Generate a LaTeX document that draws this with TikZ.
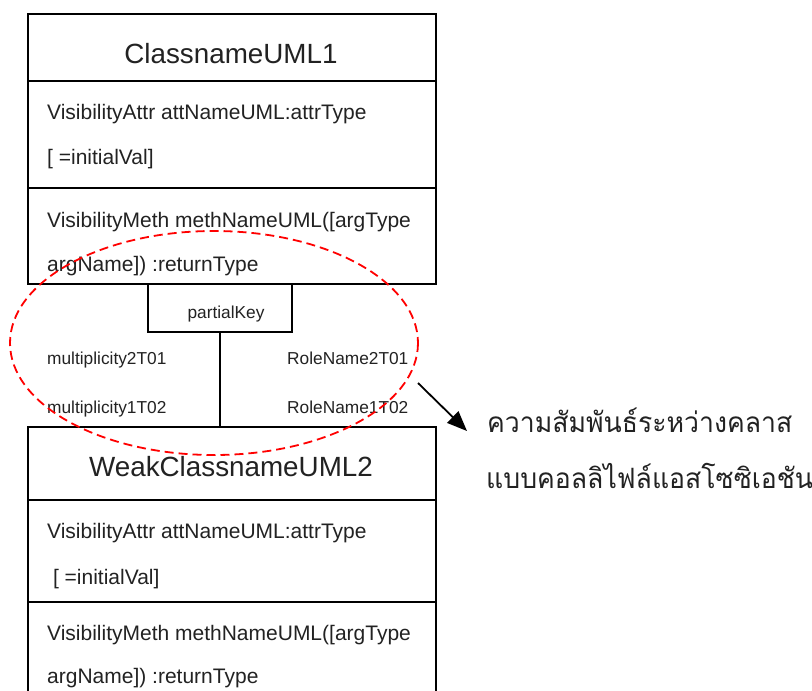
\documentclass[tikz,border=0pt]{standalone}
\usepackage{fontspec}
\setmainfont{Liberation Sans}
\newfontfamily\thaifont[Script=Thai, FakeStretch=0.95]{Loma}
\usetikzlibrary{arrows.meta}
\definecolor{ink}{HTML}{222222}
\tikzset{
  part/.style={draw=black, line width=1.8pt, rectangle, inner sep=0pt, anchor=north west},
  cname/.style={anchor=base, font=\fontsize{27.8}{27.8}\selectfont, text=ink, inner sep=0pt},
  member/.style={anchor=base west, font=\fontsize{21}{21}\selectfont, text=ink, inner sep=0pt},
  small/.style={anchor=base west, font=\fontsize{17.3}{17.3}\selectfont, text=ink, inner sep=0pt},
  note/.style={anchor=base west, font=\thaifont\fontsize{28}{28}\selectfont, text=ink, inner sep=0pt},
  link/.style={draw=black, line width=1.8pt},
  group/.style={draw=red, line width=1.8pt, dash pattern=on 9pt off 5pt},
  pointer/.style={draw=black, line width=1.8pt, -{Triangle[length=20pt,width=16pt]}}
}
\begin{document}
\begin{tikzpicture}[x=1pt,y=-1pt]
\useasboundingbox (0,0) rectangle (812,691);
\clip (0,0) rectangle (812,691);

% first class: name, attributes, methods
\node[part, minimum width=408pt, minimum height=67pt]  (c1name) at (27,13) {};
\node[part, minimum width=408pt, minimum height=107pt] (c1attr) at (27,80) {};
\node[part, minimum width=408pt, minimum height=96pt]  (c1meth) at (27,187) {};
\node[cname] (c1title) at (231,63) {ClassnameUML1};
\node[member] (c1a1) at (47,119) {VisibilityAttr attNameUML:attrType};
\node[member] (c1a2) at (47,164) {[ =initialVal]};
\node[member] (c1m1) at (47,227) {VisibilityMeth methNameUML([argType};
\node[member] (c1m2) at (47,271) {argName]) :returnType};

% qualifier box
\node[part, minimum width=144pt, minimum height=48pt] (pk) at (147,283) {};
\node[small, anchor=base] (pktext) at (226,318) {partialKey};

% weak class: name, attributes, methods
\node[part, minimum width=408pt, minimum height=73pt]  (c2name) at (27,426) {};
\node[part, minimum width=408pt, minimum height=102pt] (c2attr) at (27,499) {};
\node[part, minimum width=408pt, minimum height=110pt] (c2meth) at (27,601) {};
\node[cname] (c2title) at (231,476) {WeakClassnameUML2};
\node[member] (c2a1) at (47,538) {VisibilityAttr attNameUML:attrType};
\node[member] (c2a2) at (47,584) {\ [ =initialVal]};
\node[member] (c2m1) at (47,640) {VisibilityMeth methNameUML([argType};
\node[member] (c2m2) at (47,683) {argName]) :returnType};

% association between the classes
\draw[link] (pk.south) -- (pk.south |- c2name.north);
\node[small] (mult21) at (47,364) {multiplicity2T01};
\node[small] (mult12) at (47,413) {multiplicity1T02};
\node[small] (role21) at (287,364) {RoleName2T01};
\node[small] (role12) at (287,413) {RoleName1T02};

% highlighted association and its description
\draw[group] (214,343) ellipse [x radius=204, y radius=112];
\coordinate (pfrom) at (418,383);
\coordinate (pto) at (467,431);
\draw[pointer] (pfrom) -- (pto);
\node[note] (desc1) at (487,432) {ความสัมพันธ์ระหว่างคลาส};
\node[note] (desc2) at (486,488) {แบบคอลลิไฟล์แอสโซซิเอชัน};
\end{tikzpicture}
\end{document}
